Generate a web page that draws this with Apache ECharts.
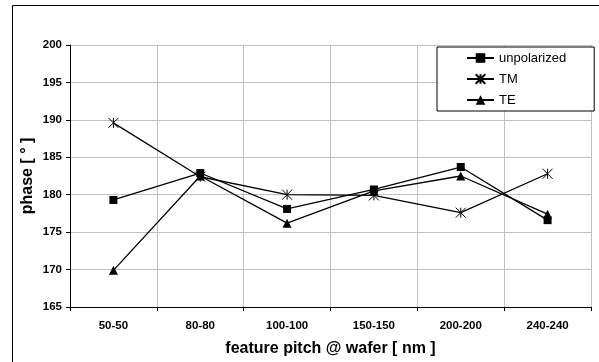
<!DOCTYPE html>
<html><head><meta charset="utf-8">
<script src="https://cdn.jsdelivr.net/npm/echarts@6/dist/echarts.min.js"></script>
<style>html,body{margin:0;padding:0;background:#fff}#c{width:599px;height:362px}</style>
</head><body><div id="c"></div>
<script>
const categories = ['50-50','80-80','100-100','150-150','200-200','240-240'];
const unpolarized = [179.3, 182.9, 178.1, 180.7, 183.7, 176.6];
const TM = [189.6, 182.4, 180.0, 179.9, 177.6, 182.8];
const TE = [169.9, 182.5, 176.2, 180.5, 182.5, 177.4];
const yTicks = [165, 200, 5];

const asterisk = 'path://M0,0L10,10M10,0L0,10M5,0L5,10';
const chart = echarts.init(document.getElementById('c'));
const font = 'Liberation Sans, Arial, sans-serif';
function s(name, data, symbol, size, extra) {
  return Object.assign({
    name, type: 'line', data, symbol, symbolSize: size,
    lineStyle: {color: '#000', width: 1.3},
    itemStyle: {color: '#000'},
    animation: false
  }, extra || {});
}
chart.setOption({
  animation: false,
  graphic: [{type: 'rect', shape: {x: 12.5, y: 5.5, width: 600, height: 400}, style: {fill: 'none', stroke: '#000', lineWidth: 1}, silent: true}],
  grid: {left: 70, right: 8, top: 45, bottom: 54},
  legend: {
    orient: 'vertical', left: 437, top: 47,
    padding: [4.5, 28, 4.5, 29], itemGap: 8, itemWidth: 27, itemHeight: 12,
    borderColor: '#000', borderWidth: 1, backgroundColor: '#fff',
    textStyle: {fontFamily: font, fontSize: 13, color: '#000'},
    data: ['unpolarized', 'TM', 'TE']
  },
  xAxis: {
    type: 'category', data: categories, boundaryGap: true,
    name: 'feature pitch @ wafer [ nm ]', nameLocation: 'middle', nameGap: 34, nameMoveOverlap: false,
    nameTextStyle: {fontFamily: font, fontSize: 16, fontWeight: 'bold', color: '#000'},
    axisLine: {lineStyle: {color: '#000', width: 1}},
    axisTick: {show: true, length: 4, lineStyle: {color: '#000'}},
    axisLabel: {fontFamily: font, fontSize: 11.5, fontWeight: 'bold', color: '#000', margin: 13},
    splitLine: {show: true, lineStyle: {color: '#c0c0c0', width: 1}}
  },
  yAxis: {
    type: 'value', min: yTicks[0], max: yTicks[1], interval: yTicks[2],
    name: 'phase [ ° ]', nameLocation: 'middle', nameGap: 34, nameRotate: 90, nameMoveOverlap: false,
    nameTextStyle: {fontFamily: font, fontSize: 16, fontWeight: 'bold', color: '#000'},
    axisLine: {show: true, lineStyle: {color: '#000', width: 1}},
    axisTick: {show: true, length: 4, lineStyle: {color: '#000'}},
    axisLabel: {fontFamily: font, fontSize: 11.5, fontWeight: 'bold', color: '#000', margin: 8},
    splitLine: {show: true, lineStyle: {color: '#c0c0c0', width: 1}}
  },
  series: [
    s('unpolarized', unpolarized, 'rect', 8),
    s('TM', TM, asterisk, 10, {itemStyle: {color: '#000', borderColor: '#000', borderWidth: 1}}),
    s('TE', TE, 'triangle', 9)
  ]
});
</script></body></html>
